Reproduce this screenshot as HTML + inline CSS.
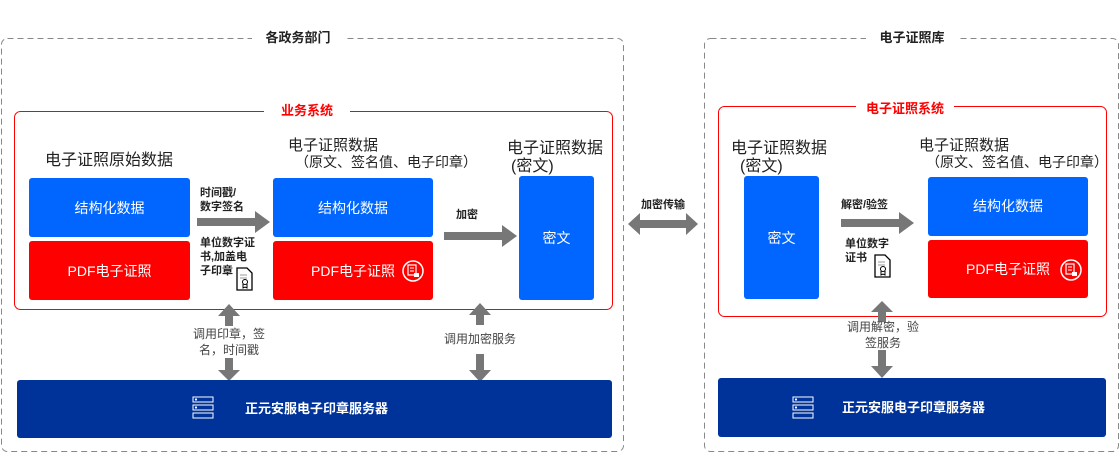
<!DOCTYPE html>
<html><head><meta charset="utf-8"><style>
html,body{margin:0;padding:0;background:#fff;}
svg{display:block;font-family:"Liberation Sans","Noto Sans CJK SC",sans-serif;}
</style></head><body>
<svg width="1120" height="453" viewBox="0 0 1120 453" xmlns="http://www.w3.org/2000/svg">
<defs>
<g id="seal"><circle cx="0" cy="0" r="10" fill="none" stroke="#fff" stroke-width="1.5"/><rect x="-5" y="-6" width="8" height="10" fill="none" stroke="#fff" stroke-width="1.2"/><line x1="-3" y1="-3" x2="1" y2="-3" stroke="#fff"/><line x1="-3" y1="0" x2="1" y2="0" stroke="#fff"/><rect x="1" y="2" width="5" height="4" fill="#fff"/></g>
<g id="doc"><path d="M0,0 h10 l5,5 v17 h-15 z" fill="#fff" stroke="#000" stroke-width="1.3"/><line x1="3" y1="7" x2="10" y2="7" stroke="#999"/><line x1="3" y1="10" x2="10" y2="10" stroke="#999"/><circle cx="8" cy="14" r="2.5" fill="none" stroke="#000"/><path d="M6,16 v4 l2,-1 l2,1 v-4" fill="none" stroke="#000"/></g>
<g id="srv" fill="none" stroke="#fff" stroke-width="1"><rect x="0" y="0" width="20" height="5"/><rect x="0" y="8" width="20" height="5"/><rect x="0" y="16" width="20" height="5"/><circle cx="3" cy="2.5" r="0.6" fill="#fff"/><circle cx="3" cy="10.5" r="0.6" fill="#fff"/></g>
</defs>
<rect x="1.5" y="38.5" width="622" height="413" rx="6" fill="none" stroke="#888" stroke-dasharray="6,4"/>
<rect x="704.5" y="38.5" width="414" height="413" rx="6" fill="none" stroke="#888" stroke-dasharray="6,4"/>
<rect x="252" y="28" width="92" height="18" fill="#fff"/>
<text x="298" y="42" font-size="13" font-weight="bold" text-anchor="middle" fill="#222">各政务部门</text>
<rect x="866" y="28" width="92" height="18" fill="#fff"/>
<text x="912" y="42" font-size="13" font-weight="bold" text-anchor="middle" fill="#222">电子证照库</text>
<rect x="14.5" y="111.5" width="598" height="198" rx="6" fill="none" stroke="#f00"/>
<rect x="264" y="101" width="86" height="18" fill="#fff"/>
<text x="307" y="115" font-size="13" font-weight="bold" text-anchor="middle" fill="#f00">业务系统</text>
<rect x="718.5" y="106.5" width="388" height="210" rx="6" fill="none" stroke="#f00"/>
<rect x="856" y="99" width="98" height="18" fill="#fff"/>
<text x="905" y="113" font-size="13" font-weight="bold" text-anchor="middle" fill="#f00">电子证照系统</text>
<text x="45" y="165" font-size="16" fill="#222">电子证照原始数据</text>
<rect x="29" y="178" width="161" height="59" rx="3" fill="#0066ff"/>
<text x="109.5" y="213" font-size="14" fill="#fff" text-anchor="middle">结构化数据</text>
<rect x="29" y="241" width="161" height="59" rx="3" fill="#ff0000"/>
<text x="109.5" y="276" font-size="14" fill="#fff" text-anchor="middle">PDF电子证照</text>
<text x="200" y="196" font-size="11" font-weight="bold" fill="#222">时间戳/</text>
<text x="200" y="210" font-size="11" font-weight="bold" fill="#222">数字签名</text>
<path d="M197,218 h58 v-7 l15,11 l-15,11 v-7 h-58 z" fill="#777"/>
<text x="200" y="246" font-size="11" font-weight="bold" fill="#222">单位数字证</text>
<text x="200" y="260" font-size="11" font-weight="bold" fill="#222">书,加盖电</text>
<text x="200" y="274" font-size="11" font-weight="bold" fill="#222">子印章</text>
<use href="#doc" x="237" y="268"/>
<text x="288" y="150" font-size="15" fill="#222">电子证照数据</text>
<text x="295" y="167" font-size="14" fill="#222">（原文、签名值、电子印章）</text>
<rect x="273" y="178" width="160" height="59" rx="3" fill="#0066ff"/>
<text x="353" y="213" font-size="14" fill="#fff" text-anchor="middle">结构化数据</text>
<rect x="273" y="241" width="160" height="59" rx="3" fill="#ff0000"/>
<text x="353" y="276" font-size="14" fill="#fff" text-anchor="middle">PDF电子证照</text>
<use href="#seal" x="413" y="271"/>
<text x="456" y="218" font-size="11" font-weight="bold" fill="#222">加密</text>
<path d="M444,232 h58 v-7 l15,11 l-15,11 v-7 h-58 z" fill="#777"/>
<text x="507" y="153" font-size="16" fill="#222">电子证照数据</text>
<text x="511" y="171" font-size="16" fill="#222">(密文)</text>
<rect x="519" y="176" width="75" height="124" rx="3" fill="#0066ff"/>
<text x="556.5" y="243" font-size="14" fill="#fff" text-anchor="middle">密文</text>
<path d="M229,304 l-11,12 h7 v10 h8 v-10 h7 z" fill="#777"/>
<text x="229" y="338" font-size="12" fill="#444" text-anchor="middle">调用印章，签</text>
<text x="229" y="354" font-size="12" fill="#444" text-anchor="middle">名，时间戳</text>
<path d="M225,358 h8 v12 h7 l-11,11 l-11,-11 h7 z" fill="#777"/>
<path d="M480,303 l-11,12 h7 v10 h8 v-10 h7 z" fill="#777"/>
<text x="480" y="343" font-size="12" fill="#444" text-anchor="middle">调用加密服务</text>
<path d="M476,354 h8 v16 h7 l-11,12 l-11,-12 h7 z" fill="#777"/>
<rect x="17" y="380" width="595" height="58" rx="3" fill="#003399"/>
<use href="#srv" x="193" y="397"/>
<text x="245" y="413" font-size="13" font-weight="bold" fill="#fff">正元安服电子印章服务器</text>
<text x="663" y="208" font-size="11" font-weight="bold" fill="#222" text-anchor="middle">加密传输</text>
<path d="M628,224 l12,-11 v7 h46 v-7 l12,11 l-12,11 v-7 h-46 v7 z" fill="#777"/>
<text x="731" y="153" font-size="16" fill="#222">电子证照数据</text>
<text x="740" y="171" font-size="16" fill="#222">(密文)</text>
<rect x="744" y="176" width="75" height="123" rx="3" fill="#0066ff"/>
<text x="781.5" y="243" font-size="14" fill="#fff" text-anchor="middle">密文</text>
<text x="841" y="208" font-size="11" font-weight="bold" fill="#222">解密/验签</text>
<path d="M841,219 h58 v-7 l15,11 l-15,11 v-7 h-58 z" fill="#777"/>
<text x="845" y="247" font-size="11" font-weight="bold" fill="#222">单位数字</text>
<text x="845" y="261" font-size="11" font-weight="bold" fill="#222">证书</text>
<use href="#doc" x="875" y="255"/>
<text x="919" y="150" font-size="15" fill="#222">电子证照数据</text>
<text x="926" y="167" font-size="14" fill="#222">（原文、签名值、电子印章）</text>
<rect x="928" y="177" width="160" height="59" rx="3" fill="#0066ff"/>
<text x="1008" y="211" font-size="14" fill="#fff" text-anchor="middle">结构化数据</text>
<rect x="928" y="240" width="160" height="58" rx="3" fill="#ff0000"/>
<text x="1008" y="274" font-size="14" fill="#fff" text-anchor="middle">PDF电子证照</text>
<use href="#seal" x="1071" y="270"/>
<path d="M882,301 l-11,11 h7 v10 h8 v-10 h7 z" fill="#777"/>
<text x="883" y="331" font-size="12" fill="#444" text-anchor="middle">调用解密，验</text>
<text x="883" y="347" font-size="12" fill="#444" text-anchor="middle">签服务</text>
<path d="M878,350 h8 v16 h7 l-11,12 l-11,-12 h7 z" fill="#777"/>
<rect x="718" y="378" width="388" height="59" rx="3" fill="#003399"/>
<use href="#srv" x="793" y="397"/>
<text x="842" y="412" font-size="13" font-weight="bold" fill="#fff">正元安服电子印章服务器</text>
</svg>
</body></html>
